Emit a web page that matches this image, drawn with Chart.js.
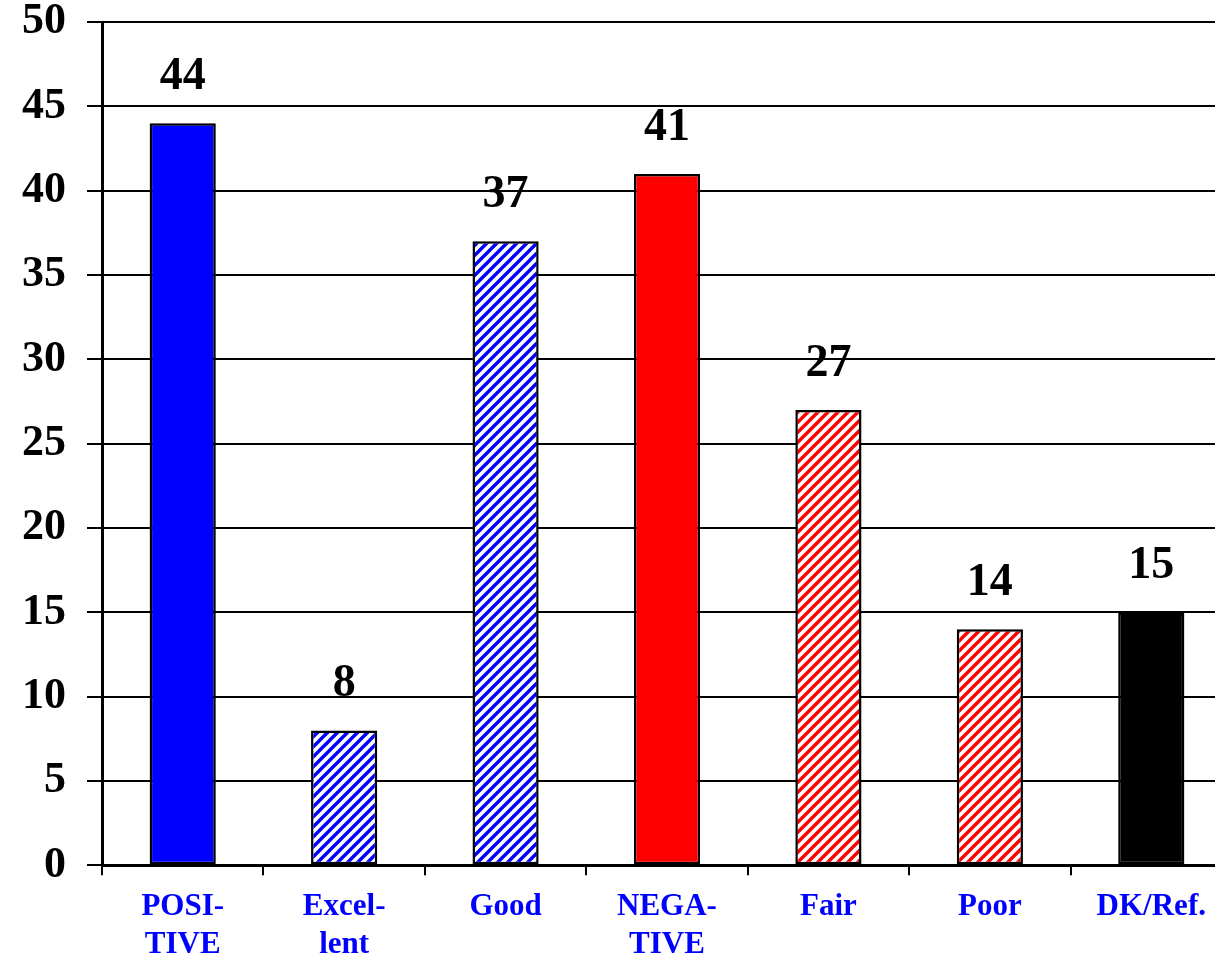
<!DOCTYPE html>
<html>
<head>
<meta charset="utf-8">
<script src="https://cdn.jsdelivr.net/npm/chart.js@4"></script>
<style>
  html, body { margin: 0; padding: 0; background: #fff; overflow: hidden; }
  #wrap { width: 1232px; height: 965px; position: relative; }
</style>
</head>
<body>
<div id="wrap"><canvas id="chart"></canvas></div>
<script>
'use strict';

const categories = [['POSI-', 'TIVE'], ['Excel-', 'lent'], 'Good', ['NEGA-', 'TIVE'], 'Fair', 'Poor', 'DK/Ref.'];
const values = [44, 8, 37, 41, 27, 14, 15];
// fill kind per bar: solid or hatched, with its colour
const fillKinds = ['solid', 'hatch', 'hatch', 'solid', 'hatch', 'hatch', 'solid'];
const fillColors = ['#0000ff', '#0000ff', '#0000ff', '#ff0000', '#ff0000', '#ff0000', '#000000'];
const yTicks = [0, 5, 10, 15, 20, 25, 30, 35, 40, 45, 50];

const serif = '"Liberation Serif", "Times New Roman", serif';

function makeHatch(color) {
  const size = 10;
  const c = document.createElement('canvas');
  c.width = size;
  c.height = size;
  const g = c.getContext('2d');
  g.fillStyle = '#fff';
  g.fillRect(0, 0, size, size);
  g.strokeStyle = color;
  g.lineWidth = 3.4;
  g.beginPath();
  // diagonal "/" stripes, plus the wrapped copies so the tile repeats cleanly
  g.moveTo(-2, size + 2); g.lineTo(size + 2, -2);
  g.moveTo(-size - 2, size + 2); g.lineTo(2, -2);
  g.moveTo(-2, 2 * size + 2); g.lineTo(size + 2, size - 2);
  g.stroke();
  return g.createPattern(c, 'repeat');
}

const ctx = document.getElementById('chart').getContext('2d');
const backgrounds = fillKinds.map((k, i) => (k === 'hatch' ? makeHatch(fillColors[i]) : fillColors[i]));

new Chart(ctx, {
  type: 'bar',
  data: {
    labels: categories,
    datasets: [
      {
        data: values,
        backgroundColor: backgrounds,
        borderColor: '#000',
        borderWidth: 2.5,
        borderSkipped: false,
        barPercentage: 0.41,
        categoryPercentage: 1,
      },
    ],
  },
  options: {
    responsive: true,
    maintainAspectRatio: false,
    animation: false,
    layout: { padding: { top: 0, left: 1, right: 0, bottom: -12 } },
    plugins: {
      legend: { display: false },
      tooltip: { enabled: false },
    },
    scales: {
      y: {
        min: 0,
        max: 50,
        afterBuildTicks: (axis) => {
          axis.ticks = yTicks.map((v) => ({ value: v }));
        },
        border: { display: true, color: '#000', width: 3 },
        grid: { color: '#000', lineWidth: 2, tickLength: 15, drawTicks: true },
        ticks: {
          color: '#000',
          padding: 21,
          // small line height only trims the space reserved above the top label
          font: { family: serif, size: 44, weight: 'bold', lineHeight: 0.05 },
        },
      },
      x: {
        border: { display: true, color: '#000', width: 3 },
        grid: { drawOnChartArea: false, drawTicks: true, tickLength: 10, offset: true, color: '#000', lineWidth: 2 },
        ticks: {
          color: '#0000ff',
          padding: 13,
          maxRotation: 0,
          autoSkip: false,
          font: { family: serif, size: 31, weight: 'bold', lineHeight: 1.22 },
        },
      },
    },
  },
  plugins: [
    {
      id: 'value_labels',
      afterDatasetsDraw: (chart) => {
        const { ctx } = chart;
        ctx.save();
        ctx.font = 'bold 46px ' + serif;
        ctx.fillStyle = '#000';
        ctx.textAlign = 'center';
        ctx.textBaseline = 'alphabetic';
        chart.getDatasetMeta(0).data.forEach((bar, index) => {
          ctx.fillText(String(values[index]), bar.x, bar.y - 34);
        });
        ctx.restore();
      },
    },
  ],
});
</script>
</body>
</html>
